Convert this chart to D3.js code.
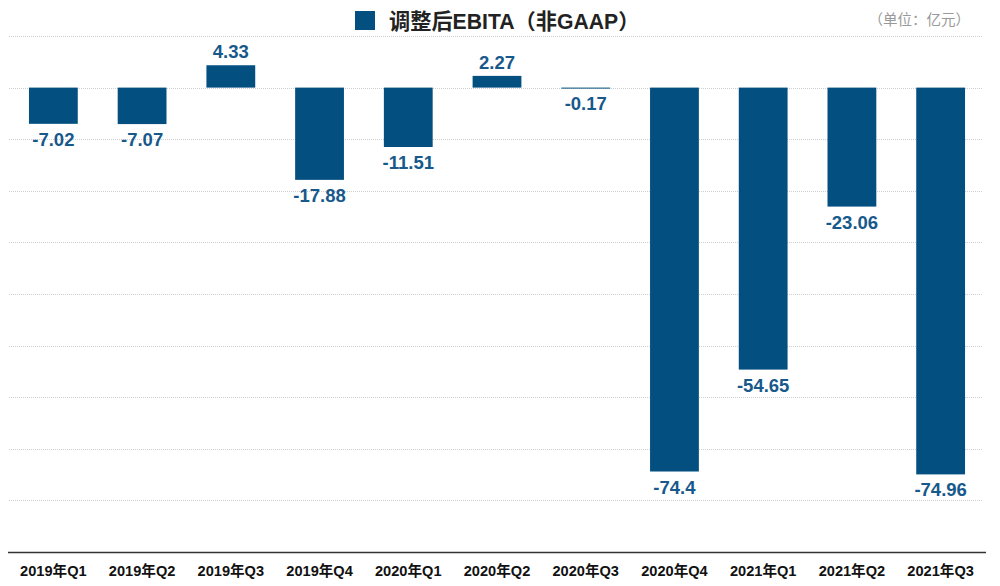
<!DOCTYPE html>
<html>
<head>
<meta charset="utf-8">
<script src="https://cdn.jsdelivr.net/npm/d3@7"></script>
<style>
  html, body { margin: 0; padding: 0; background: #fff; }
  svg { display: block; }
  text { font-family: "Liberation Sans", "Noto Sans CJK SC", sans-serif; }
</style>
</head>
<body>
<svg id="chart" width="1000" height="586"></svg>
<script>
const categories = ["2019年Q1","2019年Q2","2019年Q3","2019年Q4","2020年Q1","2020年Q2","2020年Q3","2020年Q4","2021年Q1","2021年Q2","2021年Q3"];
const values = [-7.02, -7.07, 4.33, -17.88, -11.51, 2.27, -0.17, -74.4, -54.65, -23.06, -74.96];
const valueLabels = ["-7.02","-7.07","4.33","-17.88","-11.51","2.27","-0.17","-74.4","-54.65","-23.06","-74.96"];
const gridTicks = [10, 0, -10, -20, -30, -40, -50, -60, -70, -80];
const seriesName = "调整后EBITA（非GAAP）";
const unitLabel = "（单位：亿元）";

const svg = d3.select("#chart");
const plotLeft = 9, plotRight = 985, plotTop = 36, plotBottom = 552;

const x = d3.scaleBand().domain(categories).range([plotLeft, plotRight]).paddingInner(0.45).paddingOuter(0.225);
const y = d3.scaleLinear().domain([10, -90]).range([plotTop, plotBottom]);

const barColor = "#034f80";
const labelColor = "#17598b";

// gridlines
svg.append("g").selectAll("line").data(gridTicks).join("line")
  .attr("x1", plotLeft).attr("x2", plotRight - 2)
  .attr("y1", d => Math.round(y(d)) + 0.5).attr("y2", d => Math.round(y(d)) + 0.5)
  .attr("stroke", "#cfcfcf").attr("stroke-width", 1).attr("stroke-dasharray", "1,1");

// bars
svg.append("g").selectAll("rect").data(values).join("rect")
  .attr("x", (d, i) => x(categories[i]))
  .attr("width", x.bandwidth())
  .attr("y", d => y(Math.max(0, d)))
  .attr("height", d => Math.max(1, Math.abs(y(d) - y(0))))
  .attr("fill", barColor);

// value labels
svg.append("g").selectAll("text").data(values).join("text")
  .attr("x", (d, i) => x(categories[i]) + x.bandwidth() / 2)
  .attr("y", d => d >= 0 ? y(d) - 7 : y(d) + 22)
  .attr("text-anchor", "middle")
  .attr("font-size", 18.5).attr("font-weight", "bold")
  .attr("fill", labelColor)
  .text((d, i) => valueLabels[i]);

// x axis
const xAxis = svg.append("g").attr("transform", `translate(0,${plotBottom})`)
  .call(d3.axisBottom(x).tickSize(0).tickPadding(14));
xAxis.select(".domain").attr("d", `M${plotLeft - 1},0.5H${plotRight + 1}`).attr("stroke", "#333").attr("stroke-width", 1.5);
xAxis.selectAll("text")
  .attr("font-size", 14.6).attr("font-weight", "bold").attr("fill", "#111")
  .style("font-family", '"Liberation Sans", "Noto Sans CJK SC", sans-serif');

// legend
const lg = svg.append("g");
lg.append("rect").attr("x", 355).attr("y", 11).attr("width", 20).attr("height", 19).attr("fill", barColor);
lg.append("text").attr("x", 389).attr("y", 29)
  .attr("font-size", 21.2).attr("font-weight", "bold").attr("fill", "#222")
  .text(seriesName);

// unit
svg.append("text").attr("x", 970).attr("y", 25).attr("text-anchor", "end")
  .attr("font-size", 14.5).attr("fill", "#999")
  .text(unitLabel);
</script>
</body>
</html>
